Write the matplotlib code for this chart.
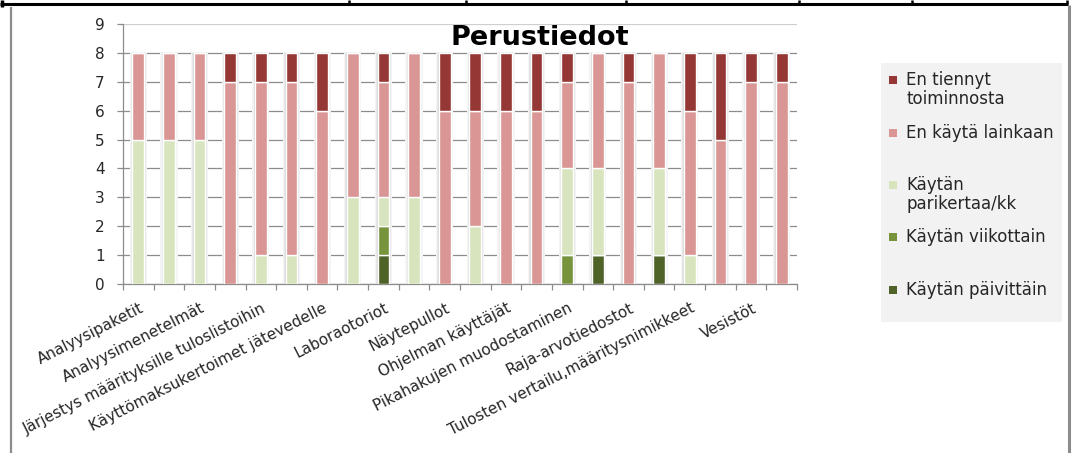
import numpy as np
import matplotlib
matplotlib.use("Agg")
import matplotlib.pyplot as plt
from matplotlib.lines import Line2D
from matplotlib.patches import Rectangle
import matplotlib.transforms as mtransforms

plt.rcParams['font.family'] = ['DejaVu Sans']

# --- data -------------------------------------------------------------
n_categories = 22
labels = [
    "Analyysipaketit",
    "Analyysimenetelmät",
    "Järjestys määrityksille tuloslistoihin",
    "Käyttömaksukertoimet jätevedelle",
    "Laboraotoriot",
    "Näytepullot",
    "Ohjelman käyttäjät",
    "Pikahakujen muodostaminen",
    "Raja-arvotiedostot",
    "Tulosten vertailu,määritysnimikkeet",
    "Vesistöt",
]
label_positions = list(range(0, n_categories, 2))

# stacked from the bottom upwards
paivittain = [0, 0, 0, 0, 0, 0, 0, 0, 1, 0, 0, 0, 0, 0, 0, 1, 0, 1, 0, 0, 0, 0]
viikottain = [0, 0, 0, 0, 0, 0, 0, 0, 1, 0, 0, 0, 0, 0, 1, 0, 0, 0, 0, 0, 0, 0]
parikertaa = [5, 5, 5, 0, 1, 1, 0, 3, 1, 3, 0, 2, 0, 0, 3, 3, 0, 3, 1, 0, 0, 0]
ei_lainkaan = [3, 3, 3, 7, 6, 6, 6, 5, 4, 5, 6, 4, 6, 6, 3, 4, 7, 4, 5, 5, 7, 7]
ei_tiennyt = [0, 0, 0, 1, 1, 1, 2, 0, 1, 0, 2, 2, 2, 2, 1, 0, 1, 0, 2, 3, 1, 1]

series = [
    ("Käytän päivittäin", paivittain, "#4F6228"),
    ("Käytän viikottain", viikottain, "#77933C"),
    ("Käytän\nparikertaa/kk", parikertaa, "#D7E4BD"),
    ("En käytä lainkaan", ei_lainkaan, "#D99694"),
    ("En tiennyt\ntoiminnosta", ei_tiennyt, "#953735"),
]

# --- figure -----------------------------------------------------------
W, H = 1074, 453
fig = plt.figure(figsize=(W / 100, H / 100), dpi=100)
fig.patch.set_facecolor("white")


def fx(x):
    return x / W


def fy(y):
    return 1 - y / H


def fig_line(xs, ys, color, lw):
    fig.add_artist(Line2D([fx(v) for v in xs], [fy(v) for v in ys],
                          color=color, lw=lw, transform=fig.transFigure,
                          solid_capstyle="butt"))


# worksheet border above the chart
fig_line([0, 1068], [4, 4], "black", 2.2)
fig_line([1.5, 1.5], [0, 6.5], "black", 2.5)
for xv in [349, 466, 626, 799, 912, 1067]:
    fig_line([xv, xv], [0, 4], "black", 1.8)

# chart frame
fig_line([11, 11], [6.5, H], "#8C8C8C", 1.6)
fig_line([1068.5, 1068.5], [5, H], "#8C8C8C", 2.2)

ax = fig.add_axes([fx(123), fy(284), fx(797) - fx(123), fy(24) - fy(284)])
ax.set_xlim(-0.5, n_categories - 0.5)
ax.set_ylim(0, 9)
ax.set_axisbelow(True)

x = np.arange(n_categories)
totals = np.sum([s[1] for s in series], axis=0)

# soft shadow around each column
ax.bar(x, totals, width=0.56, color="#F4F4F4", zorder=2)
ax.bar(x, totals, width=0.48, color="#E6E6E6", zorder=2.1)
ax.bar(x, totals, width=0.42, color="#D9D9D9", zorder=2.2)

bottom = np.zeros(n_categories)
for name, vals, col in series:
    vals = np.array(vals, dtype=float)
    ax.bar(x, vals, bottom=bottom, width=0.38, color=col,
           edgecolor="white", linewidth=1.0, zorder=3)
    bottom += vals

# grid and axes
ax.set_yticks(range(10))
ax.yaxis.grid(True, color="#8C8C8C", lw=0.9)
ax.get_ygridlines()[-1].set_color("#CFCFCF")
ax.get_ygridlines()[-1].set_linewidth(1.6)
for sp in ["top", "right"]:
    ax.spines[sp].set_visible(False)
for sp in ["left", "bottom"]:
    ax.spines[sp].set_color("#8C8C8C")
    ax.spines[sp].set_linewidth(0.9)

ax.tick_params(axis="y", length=4.3, width=0.9, color="#8C8C8C",
               pad=9, labelsize=11, labelcolor="#262626")
ax.set_xticks(np.arange(-0.5, n_categories, 1), minor=True)
ax.tick_params(axis="x", which="minor", length=4.3, width=0.9,
               color="#8C8C8C", direction="out")
ax.set_xticks(label_positions)
ax.set_xticklabels(labels, rotation=27, ha="right", va="top",
                   rotation_mode="anchor", fontsize=11, color="#262626")
ax.tick_params(axis="x", which="major", length=0, pad=12)
shift = mtransforms.ScaledTranslation(1 / 100, 0, fig.dpi_scale_trans)
for lab in ax.get_xticklabels():
    lab.set_transform(lab.get_transform() + shift)

# title
fig.text(fx(540), fy(38), "Perustiedot", ha="center", va="center",
         fontsize=19.5, fontweight="bold", color="black")

# legend
fig.add_artist(Rectangle((fx(881), fy(322)), fx(1062) - fx(881),
                         fy(63) - fy(322), transform=fig.transFigure,
                         facecolor="#F2F2F2", edgecolor="none"))
legend_y = [80, 133, 185, 237, 290]
for (name, vals, col), yy in zip(series[::-1], legend_y):
    fig.add_artist(Rectangle((fx(889), fy(yy + 4)), fx(8), fx(8) * W / H,
                             transform=fig.transFigure, facecolor=col,
                             edgecolor="none"))
    for k, line in enumerate(name.split("\n")):
        fig.text(fx(906), fy(yy + 5 + 19 * k), line, ha="left",
                 va="baseline", fontsize=12, color="#262626")

fig.savefig("out.png", dpi=100)
